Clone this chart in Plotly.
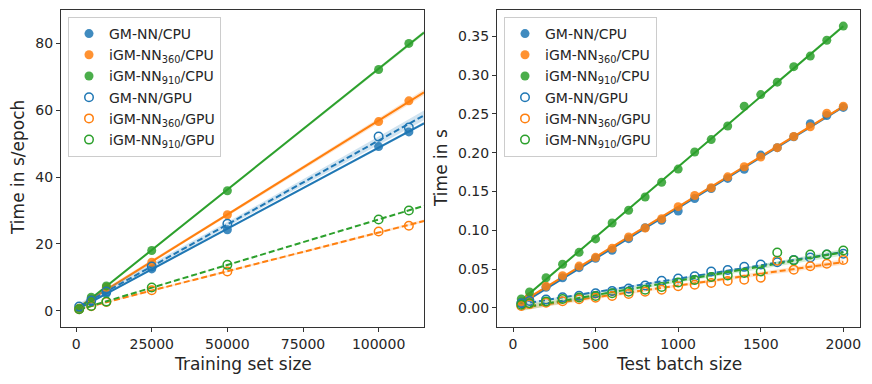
import numpy as np
import plotly.graph_objects as go

# ---------------- data ----------------
series_names = ["GM-NN/CPU", "iGM-NN<sub>360</sub>/CPU", "iGM-NN<sub>910</sub>/CPU",
                "GM-NN/GPU", "iGM-NN<sub>360</sub>/GPU", "iGM-NN<sub>910</sub>/GPU"]
series_colors = ["#1f77b4", "#ff7f0e", "#2ca02c", "#1f77b4", "#ff7f0e", "#2ca02c"]
series_gpu = [False, False, False, True, True, True]

train_sizes = [1000, 5000, 10000, 25000, 50000, 100000, 110000]
train_gmnn_cpu = [0.6, 2.7, 5.2, 12.5, 24.2, 49.1, 53.5]
train_igm360_cpu = [0.7, 3.5, 7.0, 14.5, 28.7, 56.6, 62.8]
train_igm910_cpu = [0.7, 4.0, 7.4, 18.0, 35.9, 72.2, 80.0]
train_gmnn_gpu = [1.2, 3.0, 5.7, 13.2, 26.0, 52.1, 54.8]
train_igm360_gpu = [0.4, 1.3, 2.6, 6.1, 11.7, 23.7, 25.4]
train_igm910_gpu = [0.4, 1.4, 2.7, 6.9, 13.7, 27.3, 30.0]
train_fit_range = [1000, 115000]

batch_sizes = [50, 100, 200, 300, 400, 500, 600, 700, 800, 900, 1000,
               1100, 1200, 1300, 1400, 1500, 1600, 1700, 1800, 1900, 2000]
test_gmnn_cpu = [0.006, 0.0133, 0.0266, 0.039, 0.052, 0.064, 0.0743, 0.0893, 0.1035, 0.113, 0.125,
                 0.141, 0.154, 0.167, 0.1787, 0.197, 0.2066, 0.2207, 0.2375, 0.248, 0.2585]
test_igm360_cpu = [0.008, 0.0146, 0.028, 0.0417, 0.054, 0.0653, 0.0769, 0.0915, 0.103, 0.115, 0.1306,
                   0.145, 0.155, 0.169, 0.182, 0.1945, 0.2066, 0.221, 0.2336, 0.251, 0.260]
test_igm910_cpu = [0.0116, 0.0206, 0.039, 0.0563, 0.0717, 0.089, 0.1095, 0.126, 0.143, 0.162, 0.179,
                   0.201, 0.217, 0.2345, 0.260, 0.275, 0.291, 0.311, 0.3246, 0.345, 0.3633]
test_gmnn_gpu = [0.006, 0.009, 0.011, 0.0137, 0.0158, 0.019, 0.022, 0.025, 0.029, 0.035, 0.038,
                 0.041, 0.047, 0.049, 0.053, 0.056, 0.059, 0.062, 0.065, 0.069, 0.070]
test_igm360_gpu = [0.0026, 0.005, 0.0069, 0.0086, 0.0112, 0.0133, 0.0155, 0.018, 0.021, 0.0236, 0.028,
                   0.030, 0.0322, 0.0348, 0.0365, 0.039, 0.0610, 0.0494, 0.0537, 0.0571, 0.062]
test_igm910_gpu = [0.0043, 0.006, 0.0085, 0.0115, 0.0135, 0.0155, 0.019, 0.021, 0.0236, 0.027, 0.033,
                   0.036, 0.040, 0.042, 0.045, 0.047, 0.0715, 0.0614, 0.069, 0.069, 0.074]
test_fit_range = [50, 2000]

left_xticks = [0, 25000, 50000, 75000, 100000]
left_yticks = [0, 20, 40, 60, 80]
right_xticks = [0, 500, 1000, 1500, 2000]
right_yticks = [0.0, 0.05, 0.10, 0.15, 0.20, 0.25, 0.30, 0.35]

# --------------------------------------
def rgba(hexc, a):
    h = hexc.lstrip("#")
    r, g, b = int(h[0:2], 16), int(h[2:4], 16), int(h[4:6], 16)
    return f"rgba({r},{g},{b},{a})"


def fit_band(x, y, rng):
    x = np.asarray(x, float)
    y = np.asarray(y, float)
    n = len(x)
    b, a = np.polyfit(x, y, 1)
    grid = np.linspace(rng[0], rng[1], 100)
    yhat = a + b * grid
    resid = y - (a + b * x)
    s = np.sqrt(np.sum(resid ** 2) / (n - 2))
    xm = x.mean()
    sxx = np.sum((x - xm) ** 2)
    t = {5: 2.571, 19: 2.093}.get(n - 2, 2.1)
    se = s * np.sqrt(1.0 / n + (grid - xm) ** 2 / sxx)
    return grid, yhat, yhat - t * se, yhat + t * se


fig = go.Figure()

panels = [
    ("x", "y", "legend", train_sizes,
     [train_gmnn_cpu, train_igm360_cpu, train_igm910_cpu, train_gmnn_gpu, train_igm360_gpu, train_igm910_gpu],
     train_fit_range),
    ("x2", "y2", "legend2", batch_sizes,
     [test_gmnn_cpu, test_igm360_cpu, test_igm910_cpu, test_gmnn_gpu, test_igm360_gpu, test_igm910_gpu],
     test_fit_range),
]

for xa, ya, lg, xs, ys_list, rng in panels:
    for name, col, gpu, ys in zip(series_names, series_colors, series_gpu, ys_list):
        grid, yhat, lo, hi = fit_band(xs, ys, rng)
        fig.add_trace(go.Scatter(
            x=np.concatenate([grid, grid[::-1]]), y=np.concatenate([hi, lo[::-1]]),
            fill="toself", fillcolor=rgba(col, 0.2), line=dict(width=0),
            mode="lines", hoverinfo="skip", showlegend=False, xaxis=xa, yaxis=ya))
        fig.add_trace(go.Scatter(
            x=grid, y=yhat, mode="lines",
            line=dict(color=col, width=2, dash="6px,3px" if gpu else "solid"),
            showlegend=False, hoverinfo="skip", xaxis=xa, yaxis=ya))
    for name, col, gpu, ys in zip(series_names, series_colors, series_gpu, ys_list):
        if gpu:
            marker = dict(symbol="circle-open", size=8.5, color=col, line=dict(width=1.5, color=col))
        else:
            marker = dict(symbol="circle", size=9, color=rgba(col, 0.85), line=dict(width=0))
        fig.add_trace(go.Scatter(
            x=xs, y=ys, mode="markers", marker=marker, name=name,
            legend=lg, xaxis=xa, yaxis=ya))

# page body has an 8px margin: lay the figure out in the remaining area
OFF = 8
W, H = 872 - OFF, 384 - OFF
def px_x(p):
    return (p - OFF) / W
def px_y(p):
    return 1 - (p - OFF) / H

axis_common = dict(showline=True, mirror=True, linecolor="#333333", linewidth=1,
                   ticks="outside", ticklen=4, tickcolor="#333333", showgrid=False,
                   zeroline=False, automargin=False,
                   tickfont=dict(family="DejaVu Sans", size=14, color="#262626"))

legend_common = dict(xanchor="left", yanchor="top",
                     bgcolor="rgba(255,255,255,0.8)", bordercolor="#cccccc", borderwidth=1,
                     font=dict(family="DejaVu Sans", size=14, color="#262626"))

title_font = dict(size=17, family="DejaVu Sans", color="#262626")

fig.update_layout(
    width=W, height=H,
    margin=dict(l=0, r=0, t=0, b=0, pad=0),
    paper_bgcolor="white", plot_bgcolor="white",
    font=dict(family="DejaVu Sans", color="#262626"),
    xaxis=dict(domain=[px_x(61), px_x(424)], range=[-5000, 115000],
               tickvals=left_xticks, ticktext=[str(v) for v in left_xticks], anchor="y", **axis_common),
    yaxis=dict(domain=[px_y(327), px_y(10)], range=[-4.9, 90],
               tickvals=left_yticks, anchor="x", **axis_common),
    xaxis2=dict(domain=[px_x(497), px_x(860)], range=[-97, 2101],
                tickvals=right_xticks, anchor="y2", **axis_common),
    yaxis2=dict(domain=[px_y(327), px_y(10)], range=[-0.0245, 0.384],
                tickvals=right_yticks, tickformat=".2f", anchor="x2", **axis_common),
    legend=dict(x=px_x(68), y=px_y(17), **legend_common),
    legend2=dict(x=px_x(504), y=px_y(17), **legend_common),
    annotations=[
        dict(text="Training set size", x=(px_x(61) + px_x(424)) / 2, y=px_y(364),
             xref="paper", yref="paper", showarrow=False, xanchor="center", yanchor="middle",
             font=title_font),
        dict(text="Test batch size", x=(px_x(497) + px_x(860)) / 2, y=px_y(364),
             xref="paper", yref="paper", showarrow=False, xanchor="center", yanchor="middle",
             font=title_font),
        dict(text="Time in s/epoch", x=px_x(18), y=px_y(168), textangle=-90,
             xref="paper", yref="paper", showarrow=False, xanchor="center", yanchor="middle",
             font=title_font),
        dict(text="Time in s", x=px_x(441), y=px_y(168), textangle=-90,
             xref="paper", yref="paper", showarrow=False, xanchor="center", yanchor="middle",
             font=title_font),
    ],
)

fig.write_html("out.html")
